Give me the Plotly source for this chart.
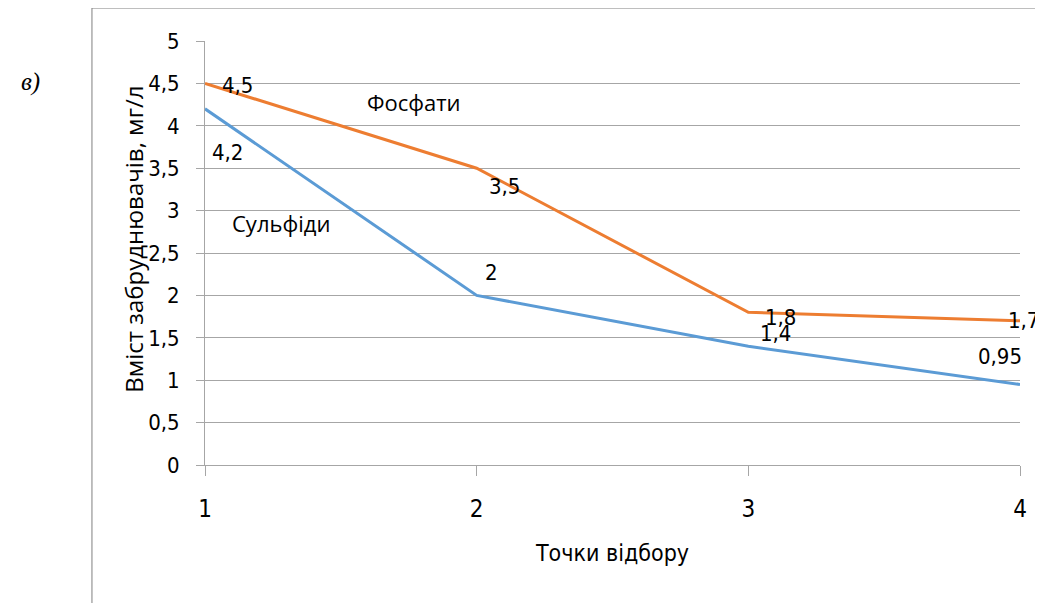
import plotly.graph_objects as go

points = [1, 2, 3, 4]
phosphates = [4.5, 3.5, 1.8, 1.7]
sulfides = [4.2, 2.0, 1.4, 0.95]
phos_labels = ["4,5", "3,5", "1,8", "1,7"]
sulf_labels = ["4,2", "2", "1,4", "0,95"]
y_ticks = [0, 0.5, 1, 1.5, 2, 2.5, 3, 3.5, 4, 4.5, 5]
y_tick_text = ["0", "0,5", "1", "1,5", "2", "2,5", "3", "3,5", "4", "4,5", "5"]

ORANGE = "#ED7D31"
BLUE = "#5B9BD5"
NARROW = "DejaVu Sans Condensed, Liberation Sans Narrow, sans-serif"
REG = "Open Sans, sans-serif"

fig = go.Figure()
fig.add_trace(go.Scatter(x=points, y=sulfides, mode="lines", name="Сульфіди",
                         line=dict(color=BLUE, width=3)))
fig.add_trace(go.Scatter(x=points, y=phosphates, mode="lines", name="Фосфати",
                         line=dict(color=ORANGE, width=3)))

phos_shift = [(32, -2), (28, -18), (32, -5), (3, 0)]
sulf_shift = [(22, -44), (15, 23), (27, 13), (-20, 28)]
for x, y, t, (dx, dy) in zip(points, phosphates, phos_labels, phos_shift):
    fig.add_annotation(x=x, y=y, text=t, showarrow=False, xshift=dx, yshift=dy,
                       font=dict(family=NARROW, size=22, color="#000"))
for x, y, t, (dx, dy) in zip(points, sulfides, sulf_labels, sulf_shift):
    fig.add_annotation(x=x, y=y, text=t, showarrow=False, xshift=dx, yshift=dy,
                       font=dict(family=NARROW, size=22, color="#000"))

fig.add_annotation(x=1.77, y=4.28, text="Фосфати", showarrow=False,
                   font=dict(family=REG, size=22, color="#000"))
fig.add_annotation(x=1.28, y=2.85, text="Сульфіди", showarrow=False,
                   font=dict(family=REG, size=22, color="#000"))

fig.add_annotation(xref="paper", yref="paper", x=-0.2147, y=0.903, text="<i>в)</i>",
                   xanchor="center", yanchor="middle",
                   showarrow=False, font=dict(family="Liberation Serif, serif", size=25, color="#000"))

# y-axis title placed as rotated annotation
fig.add_annotation(xref="paper", yref="paper", x=-0.0871, y=0.531,
                   xanchor="center", yanchor="middle",
                   text="Вміст забруднювачів, мг/л", textangle=-90, showarrow=False,
                   font=dict(family=REG, size=24, color="#000"))

# outer frame lines
fig.add_shape(type="line", xref="paper", yref="paper", x0=-0.1387, x1=-0.1387,
              y0=1.0778, y1=-0.33, line=dict(color="#7f7f7f", width=1))
fig.add_shape(type="line", xref="paper", yref="paper", x0=-0.1387, x1=1.05,
              y0=1.0778, y1=1.0778, line=dict(color="#7f7f7f", width=1))

fig.update_layout(
    width=1035, height=595,
    margin=dict(l=197, r=23, t=33, b=138),
    paper_bgcolor="white", plot_bgcolor="white",
    showlegend=False,
    xaxis=dict(range=[1, 4], tickvals=points, ticktext=[str(p) for p in points],
               showgrid=False, showline=True, linecolor="#a6a6a6", linewidth=1,
               ticks="outside", ticklen=10, tickcolor="#a6a6a6",
               ticklabelstandoff=12,
               tickfont=dict(family=NARROW, size=24, color="#000"),
               title=dict(text="Точки відбору", standoff=23,
                          font=dict(family=NARROW, size=23, color="#000")),
               zeroline=False),
    yaxis=dict(range=[0, 5], tickvals=y_ticks, ticktext=y_tick_text,
               showgrid=True, gridcolor="#a6a6a6", gridwidth=1,
               showline=True, linecolor="#a6a6a6", linewidth=1,
               ticks="outside", ticklen=8, tickcolor="#a6a6a6",
               ticklabelstandoff=12,
               tickfont=dict(family=NARROW, size=22, color="#000"),
               zeroline=False),
)

fig.write_html("out.html")
